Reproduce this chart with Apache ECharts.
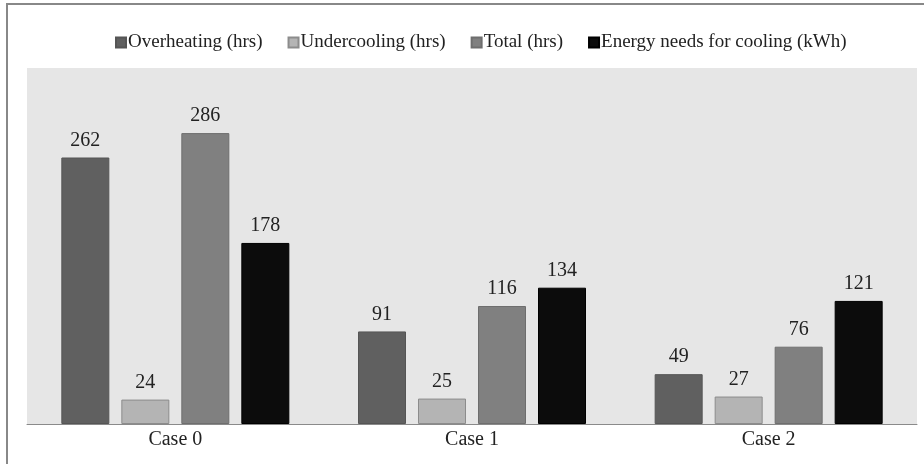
<!DOCTYPE html>
<html>
<head>
<meta charset="utf-8">
<script src="https://cdn.jsdelivr.net/npm/echarts@6/dist/echarts.min.js"></script>
<style>
  html, body { margin: 0; padding: 0; background: #fff; }
  #chart { width: 924px; height: 464px; }
</style>
</head>
<body>
<div id="chart"></div>
<script>
let categories = ['Case 0', 'Case 1', 'Case 2']
let overheating = [262, 91, 49]
let undercooling = [24, 25, 27]
let total = [286, 116, 76]
let energy = [178, 134, 121]

let seriesNames = ['Overheating (hrs)', 'Undercooling (hrs)', 'Total (hrs)', 'Energy needs for cooling (kWh)']
let seriesColors = ['#606060', '#b4b4b4', '#808080', '#0c0c0c']
let borderColors = ['#555555', '#8c8c8c', '#6e6e6e', '#000000']

let font = '"Liberation Serif", "Times New Roman", serif'

function makeSeries (name, data, i) {
  return {
    name: name,
    type: 'bar',
    data: data,
    barWidth: 48,
    barGap: '25%',
    itemStyle: { color: seriesColors[i], borderColor: borderColors[i], borderWidth: 1 },
    label: {
      show: true,
      position: 'top',
      distance: 7,
      color: '#222',
      fontFamily: font,
      fontSize: 20
    }
  }
}

let chart = echarts.init(document.getElementById('chart'))
chart.setOption({
  animation: false,
  backgroundColor: '#fff',
  graphic: [
    {
      type: 'polyline',
      shape: { points: [[7, 470], [7, 4], [930, 4]] },
      style: { stroke: '#888', lineWidth: 2, fill: null }
    }
  ],
  legend: {
    top: 28,
    left: 110,
    itemWidth: 10,
    itemHeight: 10,
    itemGap: 25,
    icon: 'rect',
    textStyle: { fontFamily: font, fontSize: 19, color: '#222', padding: [0, 0, 0, -3] },
    data: seriesNames
  },
  grid: {
    left: 27,
    right: 7,
    top: 68,
    bottom: 40,
    show: true,
    backgroundColor: '#e6e6e6',
    borderWidth: 0
  },
  xAxis: {
    type: 'category',
    data: categories,
    axisTick: { show: false },
    axisLine: { lineStyle: { color: '#8a8a8a', width: 1 } },
    axisLabel: { fontFamily: font, fontSize: 20, color: '#222', margin: 6 }
  },
  yAxis: {
    type: 'value',
    min: 0,
    max: 350,
    show: false,
    splitLine: { show: false }
  },
  series: [
    makeSeries(seriesNames[0], overheating, 0),
    makeSeries(seriesNames[1], undercooling, 1),
    makeSeries(seriesNames[2], total, 2),
    makeSeries(seriesNames[3], energy, 3)
  ]
})
</script>
</body>
</html>
